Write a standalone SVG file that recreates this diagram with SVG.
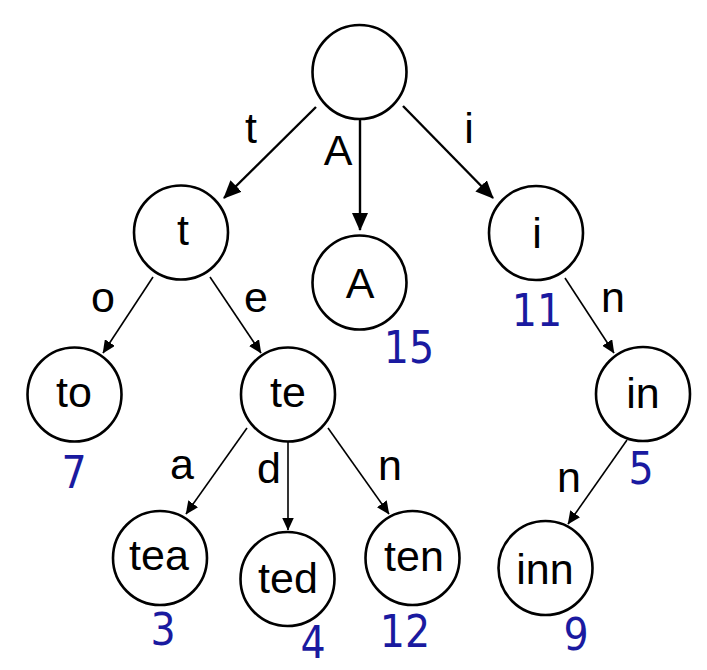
<svg xmlns="http://www.w3.org/2000/svg" width="707" height="670" viewBox="0 0 707 670">
<defs>
<marker id="big" markerUnits="userSpaceOnUse" markerWidth="18" markerHeight="16" viewBox="0 0 18 16" refX="17" refY="8" orient="auto">
<path d="M0,0 L18,8 L0,16 z" fill="#000"/>
</marker>
<marker id="small" markerUnits="userSpaceOnUse" markerWidth="13" markerHeight="12" viewBox="0 0 13 12" refX="12.5" refY="6" orient="auto">
<path d="M0,0 L13,6 L0,12 z" fill="#000"/>
</marker>
</defs>
<style>
.node{fill:#fff;stroke:#000;stroke-width:2.6}
.lbl{font-family:"Liberation Sans",Arial,sans-serif;font-size:43px;fill:#000;text-anchor:middle}
.num{font-family:"DejaVu Sans Condensed","DejaVu Sans",sans-serif;font-stretch:condensed;font-size:44px;fill:#1a1aa0;text-anchor:middle}
.e1{stroke:#000;stroke-width:2.4;fill:none;marker-end:url(#big)}
.e2{stroke:#000;stroke-width:1.6;fill:none;marker-end:url(#small)}
</style>
<rect width="707" height="670" fill="#fff"/>
<g id="connectors">
<line class="e1" x1="316" y1="107" x2="224" y2="198"/>
<line class="e1" x1="360" y1="119" x2="360" y2="230"/>
<line class="e1" x1="403" y1="106" x2="493" y2="198"/>
<line class="e2" x1="153" y1="277" x2="103" y2="353"/>
<line class="e2" x1="210" y1="277" x2="261" y2="353"/>
<line class="e2" x1="565" y1="278" x2="614" y2="353"/>
<line class="e2" x1="247" y1="428" x2="186" y2="514"/>
<line class="e2" x1="288" y1="442" x2="288" y2="530"/>
<line class="e2" x1="328" y1="428" x2="389" y2="514"/>
<line class="e2" x1="627" y1="440" x2="568" y2="524"/>
<text class="lbl" x="251" y="143">t</text>
<text class="lbl" x="338" y="165">A</text>
<text class="lbl" x="469" y="143">i</text>
<text class="lbl" x="103" y="312">o</text>
<text class="lbl" x="256" y="312">e</text>
<text class="lbl" x="613" y="312">n</text>
<text class="lbl" x="182" y="479">a</text>
<text class="lbl" x="269" y="483">d</text>
<text class="lbl" x="390" y="480">n</text>
<text class="lbl" x="569" y="492">n</text>
</g>
<g id="root"><circle class="node" cx="359.5" cy="72" r="47"/></g>
<g id="n-t"><circle class="node" cx="181" cy="232.5" r="47"/><text class="lbl" x="183" y="245">t</text></g>
<g id="n-A"><circle class="node" cx="359.5" cy="282.5" r="47"/><text class="lbl" x="360" y="298">A</text><text class="num" x="409" y="363">15</text></g>
<g id="n-i"><circle class="node" cx="536" cy="233" r="47"/><text class="lbl" x="537" y="248">i</text><text class="num" x="537" y="326">11</text></g>
<g id="n-to"><circle class="node" cx="74.5" cy="394.5" r="47"/><text class="lbl" x="74" y="407">to</text><text class="num" x="74" y="488">7</text></g>
<g id="n-te"><circle class="node" cx="288" cy="394.5" r="47"/><text class="lbl" x="288" y="407">te</text></g>
<g id="n-in"><circle class="node" cx="643" cy="394" r="47"/><text class="lbl" x="643" y="408">in</text><text class="num" x="641" y="484">5</text></g>
<g id="n-tea"><circle class="node" cx="160" cy="558" r="47"/><text class="lbl" x="159" y="570">tea</text><text class="num" x="163" y="645">3</text></g>
<g id="n-ted"><circle class="node" cx="287.5" cy="579" r="47"/><text class="lbl" x="288" y="593">ted</text><text class="num" x="313" y="658">4</text></g>
<g id="n-ten"><circle class="node" cx="412.5" cy="558" r="47"/><text class="lbl" x="414" y="571">ten</text><text class="num" x="405" y="647">12</text></g>
<g id="n-inn"><circle class="node" cx="545.5" cy="568" r="47"/><text class="lbl" x="545" y="584">inn</text><text class="num" x="576" y="650">9</text></g>
</svg>
